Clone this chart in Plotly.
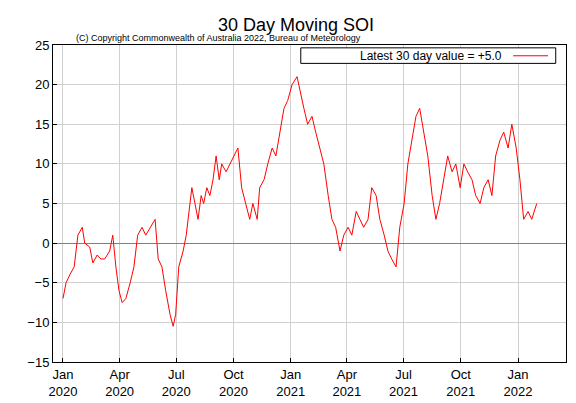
import plotly.graph_objects as go
import pandas as pd

day_offsets = [0,5,11,18,24,31,35,43,48,55,61,67,75,80,85,90,95,101,108,114,120,127,133,140,148,153,159,165,172,177,181,186,193,198,202,207,212,217,222,226,231,236,241,246,251,255,262,268,275,281,287,294,300,305,312,316,323,329,336,342,348,355,361,368,376,381,387,393,400,406,413,419,426,432,438,445,451,458,464,471,477,483,490,496,503,509,516,522,528,535,541,548,554,560,567,573,580,586,593,599,605,612,618,625,631,638,644,650,657,663,670,676,683,689,695,702,708,715,721,728,734,740,747,753,761]
soi = [-7,-5,-4,-3,1,2,0,-0.5,-2.5,-1.5,-2,-2,-1,1,-3,-6,-7.5,-7,-5,-3,1,2,1,2,3,-2,-3,-6,-9,-10.5,-9,-3,-1,1,4,7,5,3,6,5,7,6,8,11,8,10,9,10,11,12,7,5,3,5,3,7,8,10,12,11,14,17,18,20,21,19,17,15,16,14,12,10,6,3,2,-1,1,2,1,4,3,2,3,7,6,3,1,-1,-2,-3,2,5,10,13,16,17,14,11,6,3,5,8,11,9,10,7,10,9,8,6,5,7,8,6,11,13,14,12,15,12,8,3,4,3,5]
dates = pd.Timestamp("2020-01-01") + pd.to_timedelta(day_offsets, unit="D")
legend_label = "Latest 30 day value = +5.0"

tick_dates = ["2020-01-01","2020-04-01","2020-07-01","2020-10-01","2021-01-01","2021-04-01","2021-07-01","2021-10-01","2022-01-01"]
tick_text = ["Jan<br>2020","Apr<br>2020","Jul<br>2020","Oct<br>2020","Jan<br>2021","Apr<br>2021","Jul<br>2021","Oct<br>2021","Jan<br>2022"]

fig = go.Figure(go.Scatter(x=dates, y=soi, mode="lines", line=dict(color="red", width=1),
                           name=legend_label, showlegend=False))
fig.update_layout(
    width=576, height=403, paper_bgcolor="white", plot_bgcolor="white",
    font=dict(family="Liberation Sans", size=13, color="black"),
    margin=dict(l=45, r=18, t=37, b=40),
    title=dict(text="30 Day Moving SOI", x=0.5, xanchor="center", y=0.975, yanchor="top", font=dict(size=18)),
    annotations=[dict(text="(C) Copyright Commonwealth of Australia 2022, Bureau of Meteorology",
                      xref="paper", yref="paper", x=0.04, y=1.0, xanchor="left", yanchor="bottom",
                      showarrow=False, font=dict(size=9)),
                 dict(text=legend_label, xref="paper", yref="paper", x=0.88, y=0.966,
                      xanchor="right", yanchor="middle", showarrow=False, font=dict(size=12))],
    shapes=[dict(type="rect", xref="paper", yref="paper", x0=0.483, x1=0.98, y0=0.942, y1=0.991,
                 fillcolor="white", line=dict(color="black", width=1), layer="above"),
            dict(type="line", xref="paper", yref="paper", x0=0.897, x1=0.965, y0=0.966, y1=0.966,
                 line=dict(color="red", width=1), layer="above")],
)
fig.update_xaxes(range=["2019-12-16", "2022-03-19"], tickvals=tick_dates, ticktext=tick_text,
                 showgrid=True, gridcolor="#d0d0d0", showline=True, linecolor="black", mirror=True,
                 ticks="inside", ticklen=4, tickcolor="black", zeroline=False)
fig.update_yaxes(range=[-15, 25], dtick=5, showgrid=True, gridcolor="#d0d0d0", showline=True,
                 linecolor="black", mirror=True, ticks="inside", ticklen=4, tickcolor="black",
                 zeroline=True, zerolinecolor="#808080", zerolinewidth=1)
fig.write_html("out.html")
